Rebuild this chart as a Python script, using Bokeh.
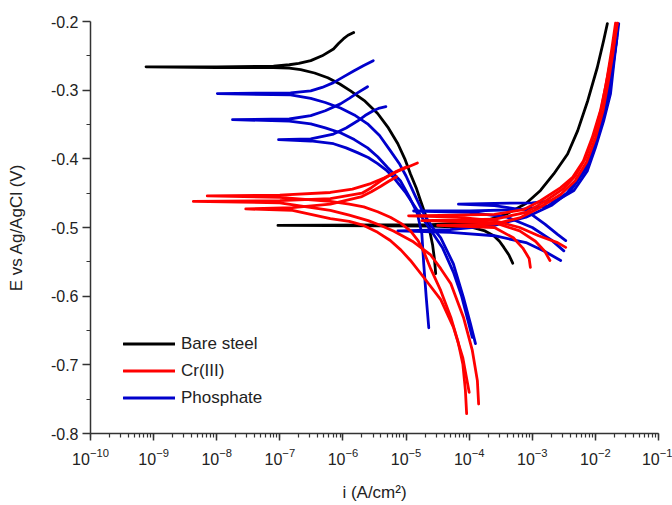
import numpy as np
from bokeh.plotting import figure
from bokeh.models import LogTicker, FixedTicker, LogTickFormatter, PrintfTickFormatter, Legend, LegendItem
from bokeh.embed import file_html
from bokeh.resources import INLINE

# ---- data: log10(i / A cm^-2) and E (V vs Ag/AgCl) ----
# Bare steel
bare1_logi = [-5.83, -5.92, -5.99, -6.07, -6.15, -6.33, -6.51, -6.7, -6.85, -7.1, -8.0, -9.12, -8.0,
              -7.1, -6.85, -6.67, -6.45, -6.24, -6.05, -5.88, -5.65, -5.45, -5.28, -5.13, -5.02, -4.93,
              -4.84, -4.77, -4.69, -4.63, -4.58, -4.55, -4.53]
bare1_E = [-0.216, -0.220, -0.225, -0.232, -0.240, -0.250, -0.257, -0.261, -0.263, -0.265, -0.266,
           -0.266, -0.267, -0.267, -0.268, -0.270, -0.275, -0.282, -0.291, -0.301, -0.316, -0.334,
           -0.355, -0.378, -0.400, -0.422, -0.442, -0.461, -0.482, -0.503, -0.525, -0.546, -0.567]
bare2_logi = [-1.81, -1.87, -1.97, -2.12, -2.28, -2.44, -2.66, -2.87, -3.1, -3.4, -3.8, -4.6, -7.03,
              -4.6, -3.95, -3.75, -3.61, -3.52, -3.45, -3.37, -3.31]
bare2_E = [-0.203, -0.228, -0.267, -0.315, -0.359, -0.393, -0.422, -0.446, -0.465, -0.480, -0.492,
           -0.496, -0.497, -0.498, -0.500, -0.505, -0.512, -0.520, -0.529, -0.540, -0.552]

# Phosphate (upper curves)
phosU1_logi = [-5.52, -5.67, -5.83, -6.0, -6.15, -6.33, -6.51, -6.83, -7.99, -6.83, -6.51, -6.28,
               -6.04, -5.82, -5.61, -5.42, -5.25, -5.1, -5.0, -4.85, -4.72, -4.58, -4.45, -4.25,
               -4.09, -3.98, -3.90]
phosU1_E = [-0.257, -0.264, -0.272, -0.281, -0.289, -0.296, -0.301, -0.304, -0.305, -0.307, -0.312,
            -0.318, -0.326, -0.336, -0.349, -0.366, -0.388, -0.408, -0.425, -0.455, -0.480, -0.500,
            -0.515, -0.553, -0.602, -0.640, -0.669]
phosU2_logi = [-5.61, -5.77, -5.9, -6.04, -6.28, -6.51, -6.85, -7.75, -6.85, -6.51, -6.28, -6.04,
               -5.82, -5.61, -5.45, -5.29, -5.09, -4.95, -4.82, -4.75, -4.72, -4.68, -4.64]
phosU2_E = [-0.295, -0.304, -0.312, -0.320, -0.330, -0.337, -0.342, -0.343, -0.345, -0.349, -0.355,
            -0.362, -0.372, -0.384, -0.397, -0.413, -0.432, -0.455, -0.480, -0.509, -0.553, -0.602,
            -0.646]
phosU3_logi = [-5.32, -5.42, -5.52, -5.65, -5.77, -5.95, -6.15, -6.51, -7.02, -6.51, -6.15, -5.95,
               -5.77, -5.6, -5.45, -5.32, -5.20, -5.0, -4.8, -4.6, -4.42, -4.25, -4.12, -4.02, -3.95]
phosU3_E = [-0.324, -0.326, -0.330, -0.337, -0.345, -0.355, -0.364, -0.371, -0.372, -0.374, -0.378,
            -0.384, -0.391, -0.398, -0.407, -0.416, -0.427, -0.450, -0.478, -0.505, -0.530, -0.565,
            -0.600, -0.635, -0.660]
# Phosphate (lower curves)
phosL1_logi = [-1.63, -1.70, -1.76, -1.87, -2.0, -2.13, -2.34, -2.6, -3.0, -3.6, -4.17, -3.6, -3.1,
               -2.8, -2.6, -2.47]
phosL1_E = [-0.203, -0.255, -0.305, -0.345, -0.384, -0.418, -0.446, -0.460, -0.464, -0.465, -0.466,
            -0.468, -0.475, -0.495, -0.510, -0.519]
phosL2_logi = [-1.65, -1.72, -1.80, -1.92, -2.05, -2.2, -2.45, -2.76, -3.2, -4.0, -4.88, -4.0, -3.4,
               -3.0, -2.7, -2.5]
phosL2_E = [-0.215, -0.265, -0.310, -0.352, -0.390, -0.420, -0.450, -0.469, -0.474, -0.476, -0.476,
            -0.478, -0.485, -0.500, -0.518, -0.534]
phosL3_logi = [-1.66, -1.75, -1.85, -1.98, -2.15, -2.4, -2.7, -3.1, -3.6, -4.3, -5.13, -4.3, -3.6,
               -3.1, -2.8, -2.55]
phosL3_E = [-0.225, -0.280, -0.330, -0.375, -0.415, -0.447, -0.468, -0.485, -0.497, -0.503, -0.505,
            -0.507, -0.512, -0.522, -0.535, -0.548]

# Cr(III) (upper curves)
crU1_logi = [-4.82, -4.97, -5.13, -5.35, -5.56, -5.85, -6.2, -7.0, -8.15, -7.0, -6.2, -5.9, -5.67,
             -5.45, -5.25, -5.08, -4.93, -4.81, -4.72, -4.61, -4.45, -4.29, -4.18, -4.10, -4.06, -4.04]
crU1_E = [-0.406, -0.412, -0.418, -0.428, -0.436, -0.444, -0.449, -0.453, -0.454, -0.456, -0.462,
          -0.466, -0.470, -0.477, -0.485, -0.494, -0.505, -0.519, -0.535, -0.560, -0.592, -0.631,
          -0.665, -0.699, -0.737, -0.771]
crU2_logi = [-5.0, -5.15, -5.28, -5.4, -5.55, -5.7, -6.2, -7.0, -8.37, -7.0, -6.2, -5.9, -5.6, -5.4,
             -5.2, -4.9, -4.61, -4.45, -4.29, -4.09, -3.95, -3.87, -3.85]
crU2_E = [-0.412, -0.418, -0.425, -0.432, -0.442, -0.450, -0.458, -0.461, -0.462, -0.464, -0.475,
          -0.482, -0.490, -0.497, -0.505, -0.520, -0.540, -0.560, -0.582, -0.631, -0.679, -0.723,
          -0.757]
crU3_logi = [-5.15, -5.28, -5.4, -5.55, -5.7, -6.2, -6.8, -7.54, -6.8, -6.2, -5.9, -5.67, -5.45, -5.25,
             -5.08, -4.93, -4.7, -4.45, -4.25, -4.1, -4.0]
crU3_E = [-0.426, -0.433, -0.440, -0.448, -0.455, -0.466, -0.471, -0.473, -0.475, -0.487, -0.491,
          -0.497, -0.507, -0.519, -0.533, -0.548, -0.575, -0.605, -0.645, -0.690, -0.740]
# Cr(III) (lower curves)
crL1_logi = [-1.65, -1.71, -1.76, -1.84, -1.92, -2.05, -2.19, -2.36, -2.55, -2.87, -3.14, -3.6, -4.2,
             -4.96, -4.2, -3.6, -3.2, -2.9, -2.6, -2.47]
crL1_E = [-0.202, -0.233, -0.257, -0.296, -0.330, -0.369, -0.403, -0.427, -0.442, -0.461, -0.474,
          -0.481, -0.482, -0.483, -0.485, -0.490, -0.500, -0.512, -0.522, -0.529]
crL2_logi = [-1.68, -1.74, -1.81, -1.90, -2.02, -2.16, -2.32, -2.5, -2.8, -3.1, -3.6, -4.75, -3.6,
             -3.2, -2.95, -2.8, -2.72]
crL2_E = [-0.202, -0.240, -0.280, -0.325, -0.365, -0.400, -0.425, -0.443, -0.462, -0.478, -0.488,
          -0.490, -0.493, -0.505, -0.520, -0.535, -0.548]
crL3_logi = [-1.66, -1.72, -1.80, -1.88, -2.0, -2.14, -2.32, -2.55, -2.9, -3.2, -3.6, -4.5, -3.6,
             -3.3, -3.15, -3.05, -3.03]
crL3_E = [-0.205, -0.245, -0.290, -0.330, -0.370, -0.405, -0.432, -0.452, -0.472, -0.486, -0.495,
          -0.497, -0.500, -0.515, -0.530, -0.545, -0.558]

series_names = ["Bare steel", "Cr(III)", "Phosphate"]
series_colors = ["#000000", "#ff0000", "#0000cc"]

y_ticks = [-0.8, -0.7, -0.6, -0.5, -0.4, -0.3, -0.2]
y_minor = [-0.75, -0.65, -0.55, -0.45, -0.35, -0.25]

FONT = "Liberation Sans"

p = figure(width=672, height=505, x_axis_type="log", x_range=(1e-10, 1e-1), y_range=(-0.8, -0.2),
           output_backend="svg", toolbar_location=None,
           min_border_left=90, min_border_right=14, min_border_top=21, min_border_bottom=72)
p.outline_line_color = None
p.xgrid.visible = False
p.ygrid.visible = False
p.background_fill_color = "white"
p.border_fill_color = "white"

def draw(logi, E, color, width=2.8):
    return p.line(10.0 ** np.array(logi), E, line_color=color, line_width=width,
                  line_join="round", line_cap="round")

r_black = [draw(bare1_logi, bare1_E, series_colors[0]), draw(bare2_logi, bare2_E, series_colors[0])]
r_blue = [draw(a, b, series_colors[2]) for a, b in [
    (phosU1_logi, phosU1_E), (phosU2_logi, phosU2_E), (phosU3_logi, phosU3_E),
    (phosL1_logi, phosL1_E), (phosL2_logi, phosL2_E), (phosL3_logi, phosL3_E)]]
r_red = [draw(a, b, series_colors[1]) for a, b in [
    (crU1_logi, crU1_E), (crU2_logi, crU2_E), (crU3_logi, crU3_E),
    (crL1_logi, crL1_E), (crL2_logi, crL2_E), (crL3_logi, crL3_E)]]

# axes
p.xaxis.ticker = LogTicker(mantissas=[1], desired_num_ticks=10, num_minor_ticks=10)
p.xaxis.formatter = LogTickFormatter()
p.yaxis.ticker = FixedTicker(ticks=y_ticks, minor_ticks=y_minor)
p.yaxis.formatter = PrintfTickFormatter(format="%.1f")

for ax in (p.xaxis[0], p.yaxis[0]):
    ax.axis_line_color = "#333333"
    ax.axis_line_width = 1.5
    ax.major_tick_line_color = "#333333"
    ax.minor_tick_line_color = "#333333"
    ax.major_tick_line_width = 1.5
    ax.minor_tick_line_width = 1.2
    ax.major_tick_in = 0
    ax.minor_tick_in = 0
    ax.major_label_text_font = FONT
    ax.major_label_text_font_size = "16px"
    ax.major_label_text_color = "#222222"
    ax.axis_label_text_font = FONT
    ax.axis_label_text_font_size = "17px"
    ax.axis_label_text_font_style = "normal"
    ax.axis_label_text_color = "#222222"

p.xaxis.major_tick_out = 7
p.xaxis.minor_tick_out = 4
p.xaxis.major_label_standoff = 7
p.xaxis.axis_label = "i (A/cm²)"
p.xaxis.axis_label_standoff = 15

p.yaxis.major_tick_out = 8
p.yaxis.minor_tick_out = 4
p.yaxis.major_label_standoff = 4
p.yaxis.axis_label = "E vs Ag/AgCl (V)"
p.yaxis.axis_label_standoff = 22

legend = Legend(items=[LegendItem(label=series_names[0], renderers=[r_black[0]]),
                       LegendItem(label=series_names[1], renderers=[r_red[0]]),
                       LegendItem(label=series_names[2], renderers=[r_blue[0]])],
                location=(33, 22), border_line_color=None, background_fill_alpha=0,
                glyph_width=52, glyph_height=27, label_height=27, spacing=0, padding=0, margin=0,
                label_standoff=6, label_text_font=FONT, label_text_font_size="17px",
                label_text_color="#222222")
p.add_layout(legend)

open("out.html", "w").write(file_html(p, INLINE))
